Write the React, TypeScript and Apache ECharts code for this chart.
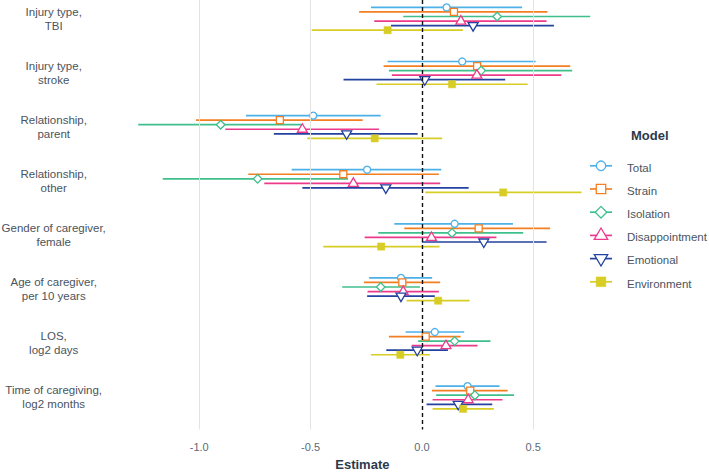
import React, { useEffect, useRef } from "react";
import * as echarts from "echarts";

const categories = [
  "Injury type,\nTBI",
  "Injury type,\nstroke",
  "Relationship,\nparent",
  "Relationship,\nother",
  "Gender of caregiver,\nfemale",
  "Age of caregiver,\nper 10 years",
  "LOS,\nlog2 days",
  "Time of caregiving,\nlog2 months",
];

const models = ["Total", "Strain", "Isolation", "Disappointment", "Emotional", "Environment"];
const colors = ["#4DB1E8", "#F47F22", "#3FBF8C", "#EC3A8D", "#2342A0", "#D8CD25"];
const shapes = ["circle", "square", "diamond", "triUp", "triDown", "squareFilled"];

// [estimate, lower, upper] per category, in category order
const totalData = [
  [0.111, -0.229, 0.45], [0.181, -0.154, 0.511], [-0.488, -0.79, -0.185], [-0.246, -0.585, 0.087],
  [0.147, -0.124, 0.409], [-0.094, -0.237, 0.046], [0.058, -0.073, 0.19], [0.205, 0.061, 0.349],
];
const strainData = [
  [0.144, -0.282, 0.564], [0.248, -0.172, 0.666], [-0.638, -1.015, -0.266], [-0.353, -0.78, 0.076],
  [0.255, -0.079, 0.576], [-0.088, -0.26, 0.082], [0.017, -0.148, 0.174], [0.217, 0.045, 0.385],
];
const isolationData = [
  [0.338, -0.084, 0.756], [0.266, -0.148, 0.675], [-0.904, -1.274, -0.54], [-0.738, -1.164, -0.332],
  [0.135, -0.196, 0.455], [-0.185, -0.358, -0.009], [0.147, -0.017, 0.308], [0.238, 0.064, 0.414],
];
const disappointmentData = [
  [0.175, -0.214, 0.56], [0.247, -0.135, 0.626], [-0.537, -0.883, -0.193], [-0.308, -0.708, 0.082],
  [0.043, -0.257, 0.335], [-0.084, -0.244, 0.076], [0.108, -0.046, 0.25], [0.208, 0.048, 0.362],
];
const emotionalData = [
  [0.23, -0.139, 0.593], [0.013, -0.352, 0.374], [-0.338, -0.665, -0.019], [-0.162, -0.537, 0.21],
  [0.278, 0.0, 0.56], [-0.094, -0.246, 0.058], [-0.021, -0.16, 0.117], [0.163, 0.021, 0.316],
];
const environmentData = [
  [-0.154, -0.495, 0.184], [0.135, -0.204, 0.475], [-0.212, -0.515, 0.091], [0.365, 0.015, 0.717],
  [-0.183, -0.443, 0.079], [0.073, -0.069, 0.214], [-0.097, -0.229, 0.036], [0.185, 0.048, 0.323],
];
const allData = [totalData, strainData, isolationData, disappointmentData, emotionalData, environmentData];

const xTicks = [-1, -0.5, 0, 0.5];
const xGrid = [-1, -0.5, 0.5];
const refLine = 0;

const FONT = "'Liberation Sans', Arial, sans-serif";
const DODGE = 4.55;

function symbolEl(kind: string, cx: number, cy: number, color: string, s: number) {
  const lw = 1.3;
  const hollow = { fill: "#fff", stroke: color, lineWidth: lw };
  switch (kind) {
    case "circle":
      return { type: "circle", shape: { cx, cy, r: 3.5 * s }, style: hollow };
    case "square":
      return { type: "rect", shape: { x: cx - 3.5 * s, y: cy - 3.5 * s, width: 7 * s, height: 7 * s }, style: hollow };
    case "diamond":
      return {
        type: "polygon",
        shape: { points: [[cx, cy - 4.3 * s], [cx + 4.3 * s, cy], [cx, cy + 4.3 * s], [cx - 4.3 * s, cy]] },
        style: hollow,
      };
    case "triUp":
      return {
        type: "polygon",
        shape: { points: [[cx, cy - 5.5 * s], [cx + 5 * s, cy + 3 * s], [cx - 5 * s, cy + 3 * s]] },
        style: hollow,
      };
    case "triDown":
      return {
        type: "polygon",
        shape: { points: [[cx - 5 * s, cy - 3 * s], [cx + 5 * s, cy - 3 * s], [cx, cy + 5.5 * s]] },
        style: hollow,
      };
    default:
      return {
        type: "rect",
        shape: { x: cx - 3.6 * s, y: cy - 3.6 * s, width: 7.2 * s, height: 7.2 * s },
        style: { fill: color, stroke: color, lineWidth: 0.5 },
      };
  }
}

export default function App() {
  const ref = useRef<HTMLDivElement>(null);
  useEffect(() => {
    if (!ref.current) return;
    const chart = echarts.init(ref.current, null, { renderer: "svg" });

    const series: any[] = [];
    models.forEach((m, si) => {
      const data = allData[si].map((d, ci) => [ci, d[0], d[1], d[2]]);
      const off = (si - 2.5) * DODGE;
      series.push({
        type: "custom",
        name: m + " CI",
        z: 2,
        silent: true,
        encode: { x: [1, 2, 3], y: 0 },
        data,
        renderItem: (params: any, api: any) => {
          const ci = api.value(0);
          const a = api.coord([api.value(2), ci]);
          const b = api.coord([api.value(3), ci]);
          return {
            type: "line",
            shape: { x1: a[0], y1: a[1] + off, x2: b[0], y2: b[1] + off },
            style: { stroke: colors[si], lineWidth: 1.7 },
          };
        },
      });
    });
    series.push({
      type: "line",
      name: "ref",
      data: [],
      z: 3,
      silent: true,
      markLine: {
        silent: true,
        symbol: "none",
        label: { show: false },
        data: [{ xAxis: refLine }],
        lineStyle: { color: "#111", type: [4, 3], width: 1.4 },
      },
    });
    series.push({
      type: "line",
      name: "grid",
      data: [],
      z: 0,
      silent: true,
      markLine: {
        silent: true,
        symbol: "none",
        label: { show: false },
        data: xGrid.map((v) => ({ xAxis: v })),
        lineStyle: { color: "#e3e3e3", type: "solid", width: 1 },
      },
    });
    models.forEach((m, si) => {
      const data = allData[si].map((d, ci) => [ci, d[0], d[1], d[2]]);
      const off = (si - 2.5) * DODGE;
      series.push({
        type: "custom",
        name: m,
        z: 4,
        silent: true,
        encode: { x: [1, 2, 3], y: 0 },
        data,
        renderItem: (params: any, api: any) => {
          const ci = api.value(0);
          const p = api.coord([api.value(1), ci]);
          return symbolEl(shapes[si], p[0], p[1] + off, colors[si], 1);
        },
      });
    });

    // legend drawn with graphics
    const legendEls: any[] = [
      {
        type: "text",
        left: 631,
        top: 129,
        style: { text: "Model", font: `bold 13px ${FONT}`, fill: "#2b3a4a" },
      },
    ];
    models.forEach((m, i) => {
      const y = 165.8 + i * 23.2;
      legendEls.push({ type: "line", shape: { x1: 590, y1: y, x2: 612, y2: y }, style: { stroke: colors[i], lineWidth: 1.7 } });
      legendEls.push(symbolEl(shapes[i], 601, y, colors[i], 1.35));
      legendEls.push({
        type: "text",
        x: 627,
        y: y + 1.8,
        style: { text: m, font: `11.5px ${FONT}`, fill: "#4a5460", verticalAlign: "middle" },
      });
    });

    chart.setOption({
      animation: false,
      backgroundColor: "#ffffff",
      grid: { left: 134.7, right: 119, top: 0, bottom: 42.6, containLabel: false, outerBoundsMode: "none" },
      xAxis: {
        type: "value",
        min: -1.29,
        max: 0.755,
        name: "Estimate",
        nameLocation: "middle",
        nameGap: 29,
        nameTextStyle: { fontFamily: FONT, fontWeight: "bold", fontSize: 13, color: "#2b3a4a" },
        axisLine: { show: false },
        axisTick: { show: false },
        splitLine: { show: false },
        axisLabel: {
          customValues: xTicks,
          formatter: (v: number) => v.toFixed(1),
          fontFamily: FONT,
          fontSize: 11,
          color: "#5d6a78",
          margin: 12,
        },
      },
      yAxis: {
        type: "value",
        inverse: true,
        min: -0.3475,
        max: 7.59,
        axisLine: { show: false },
        axisTick: { show: false },
        splitLine: { show: false },
        axisLabel: {
          customValues: categories.map((_, i) => i),
          formatter: (v: number) => categories[Math.round(v)] ?? "",
          fontFamily: FONT,
          fontSize: 11.5,
          color: "#4a5460",
          align: "center",
          lineHeight: 14,
          padding: [4, 0, 0, 0],
          margin: 81,
        },
      },
      graphic: legendEls,
      series,
    });
    return () => chart.dispose();
  }, []);
  return <div ref={ref} style={{ position: "fixed", left: 0, top: 0, width: 709, height: 472 }} />;
}
